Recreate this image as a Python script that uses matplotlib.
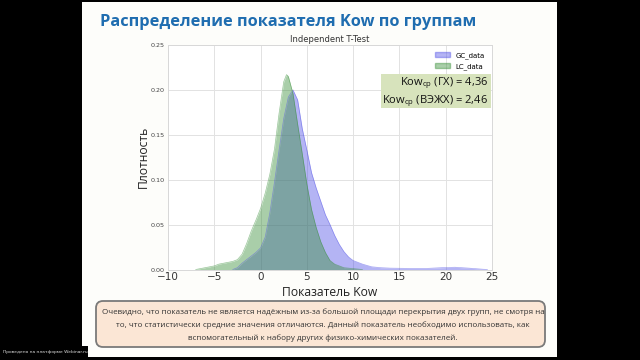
import matplotlib
matplotlib.use('Agg')
import matplotlib.pyplot as plt
from matplotlib.patches import Rectangle, FancyBboxPatch, Patch
import numpy as np

# values
gc_x = [-3.0, -2.5, -2.0, -1.5, -1.0, -0.5, 0.0, 0.5, 1.0, 1.5, 2.0, 2.5, 3.0, 3.5,
        4.0, 4.5, 5.0, 5.5, 6.0, 6.5, 7.0, 7.5, 8.0, 8.5, 9.0, 9.5, 10.0, 11.0, 12.0,
        13.0, 14.0, 16.0, 18.0, 19.5, 21.0, 22.5, 24.0, 24.5]
gc_y = [0.000, 0.002, 0.007, 0.011, 0.015, 0.019, 0.024, 0.036, 0.063, 0.097, 0.133,
        0.168, 0.192, 0.200, 0.189, 0.157, 0.133, 0.108, 0.091, 0.076, 0.061, 0.050,
        0.038, 0.028, 0.020, 0.014, 0.010, 0.006, 0.003, 0.002, 0.0015, 0.0012, 0.0012,
        0.002, 0.0025, 0.0015, 0.0003, 0.0]

lc_x = [-7.0, -6.5, -6.0, -5.5, -5.0, -4.5, -4.0, -3.5, -3.0, -2.5, -2.0, -1.5, -1.0,
        -0.5, 0.0, 0.5, 1.0, 1.5, 2.0, 2.5, 2.8, 3.0, 3.5, 4.0, 4.5, 5.0, 5.5, 6.0,
        6.5, 7.0, 7.5, 8.0, 9.0, 10.0, 11.0]
lc_y = [0.0, 0.001, 0.002, 0.003, 0.004, 0.006, 0.007, 0.008, 0.009, 0.011, 0.017,
        0.029, 0.043, 0.055, 0.068, 0.085, 0.106, 0.134, 0.174, 0.209, 0.217, 0.215,
        0.196, 0.162, 0.129, 0.095, 0.067, 0.047, 0.031, 0.019, 0.010, 0.006, 0.002,
        0.001, 0.0]

x_ticks = [-10, -5, 0, 5, 10, 15, 20, 25]
y_ticks = [0.0, 0.05, 0.10, 0.15, 0.20, 0.25]
mean_gc = "4,36"
mean_lc = "2,46"

slide_font = 'Open Sans'
gc_color = (0.3, 0.3, 0.9)
lc_color = (0.2, 0.55, 0.2)

fig = plt.figure(figsize=(6.4, 3.6), dpi=100, facecolor='black')

# background layer in pixel coordinates
bg = fig.add_axes([0, 0, 1, 1], zorder=0)
bg.set_xlim(0, 640)
bg.set_ylim(360, 0)
bg.axis('off')
bg.add_patch(Rectangle((82, 2), 475, 355, facecolor='#fdfdfa', edgecolor='none'))

bg.text(100, 22, "Распределение показателя Kow по группам", fontsize=11.8,
        fontweight='bold', color='#1f6db0', family=slide_font, va='center', ha='left')

bg.add_patch(FancyBboxPatch((96, 301), 449, 46, boxstyle="round,pad=0,rounding_size=7",
                            facecolor='#fbe6d5', edgecolor='#7a7a7a', linewidth=1.3))
note = ("Очевидно, что показатель не является надёжным из-за большой площади перекрытия двух групп, не смотря на\n"
        "то, что статистически средние значения отличаются. Данный показатель необходимо использовать, как\n"
        "вспомогательный к набору других физико-химических показателей.")
bg.text(323, 325, note, fontsize=5.75, color='#333333', family=slide_font,
        ha='center', va='center', linespacing=1.9)

bg.text(330, 292, "Показатель Kow", fontsize=8.7, color='#222222', family=slide_font,
        ha='center', va='center')
bg.text(143, 157, "Плотность", fontsize=8.7, color='#222222', family=slide_font,
        ha='center', va='center', rotation=90)

bg.add_patch(Rectangle((0, 346), 88, 11, facecolor='black', edgecolor='none'))
bg.text(3, 352, "Проведено на платформе Webinar.ru", fontsize=3.2, color='#dddddd',
        ha='left', va='center')

# chart
ax = fig.add_axes([168 / 640, 1 - 269.5 / 360, 324 / 640, 224.5 / 360], zorder=1)
ax.set_facecolor('white')
ax.fill_between(gc_x, gc_y, color=gc_color, alpha=0.42, linewidth=0, label='GC_data')
ax.plot(gc_x, gc_y, color=gc_color, linewidth=0.5, alpha=0.5)
ax.fill_between(lc_x, lc_y, color=lc_color, alpha=0.42, linewidth=0, label='LC_data')
ax.plot(lc_x, lc_y, color=lc_color, linewidth=0.5, alpha=0.5)

ax.set_xlim(-10, 25)
ax.set_ylim(0, 0.25)
ax.set_xticks(x_ticks)
ax.set_yticks(y_ticks)
ax.set_yticklabels(["%.2f" % v for v in y_ticks])
ax.tick_params(axis='y', length=0, labelsize=4.6, labelcolor='#444444', pad=2.5)
ax.tick_params(axis='x', length=0, labelsize=7.5, labelcolor='#333333', pad=2)
ax.grid(True, color='#e2e2e2', linewidth=0.7)
ax.set_axisbelow(True)
for s in ax.spines.values():
    s.set_color('#d8d8d8')
    s.set_linewidth(0.7)
ax.set_title("Independent T-Test", fontsize=6, color='#333333', pad=2)

handles = [Patch(facecolor=gc_color, alpha=0.42, edgecolor=gc_color),
           Patch(facecolor=lc_color, alpha=0.42, edgecolor=lc_color)]
ax.legend(handles, ['GC_data', 'LC_data'], loc='upper right', fontsize=5, frameon=False,
          handlelength=2.2, handleheight=0.8, labelspacing=0.6, borderaxespad=0.6)

# overlay with the box of means
fg = fig.add_axes([0, 0, 1, 1], zorder=3)
fg.set_xlim(0, 640)
fg.set_ylim(360, 0)
fg.axis('off')
fg.patch.set_alpha(0)
fg.add_patch(Rectangle((381, 74), 110, 34, facecolor='#d7e3bc', edgecolor='none'))
means_txt = ("Kow$_\\mathregular{ср}$ (ГХ) = " + mean_gc + "\n"
             "Kow$_\\mathregular{ср}$ (ВЭЖХ) = " + mean_lc)
fg.text(488, 92, means_txt, fontsize=8.0, family=slide_font, color='#111111',
        ha='right', va='center', multialignment='right', linespacing=1.3)

fig.savefig('out.png', dpi=100, facecolor='black')
